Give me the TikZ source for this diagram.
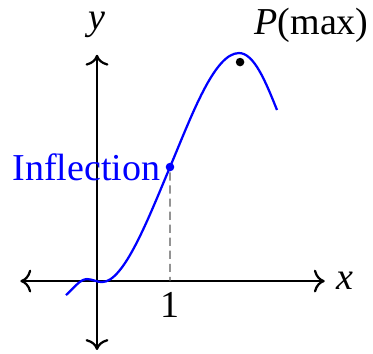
\documentclass[tikz,border=0pt]{standalone}
\usepackage{fontspec}
\setmainfont{Liberation Serif}
\usetikzlibrary{arrows.meta}

\tikzset{dot/.style={circle, fill, inner sep=0pt, minimum size=2.3pt}}

\begin{document}
\begin{tikzpicture}[xscale=0.688, yscale=0.528, semithick, font=\fontsize{10.2}{12}\selectfont]
\useasboundingbox (-1.329,-1.286) rectangle (3.781,5.018);
% axes
\coordinate (xl) at (-1.05,0);
\coordinate (xr) at (3.12,0);
\coordinate (yb) at (0,-1.23);
\coordinate (yt) at (0,4.04);
\draw[<->] (xl)--(xr);
\draw[<->] (yb)--(yt);
\node (xlab) at (3.40,0) {\textit{x}};
\node (ylab) at (0,4.57) {\textit{y}};
\node (one) at (1,-0.43) {1};
% curve
\draw[blue] (-0.425,-0.25) .. controls (-0.325,-0.14) and (-0.237,0.036) .. (-0.137,0.036)
  .. controls (-0.067,0.036) and (-0.002,-0.018) .. (0.068,-0.018)
  .. controls (0.368,-0.018) and (0.7,1.106) .. (1,2.036)
  .. controls (1.3,2.966) and (1.61,4.071) .. (1.945,4.071)
  .. controls (2.15,4.071) and (2.306,3.574) .. (2.466,3.054);
% inflection point
\coordinate (ipx) at (1,0);
\node[dot, blue] (ip) at (1,2.036) {};
\draw[black!65, thin, dash pattern=on 2.2pt off 1.3pt] (ip)--(ipx);
\node[blue, left=-1pt] (infl) at (ip.center) {Inflection};
% maximum
\node[dot] (pdot) at (1.96,3.91) {};
\node (pmax) at (2.94,4.57) {\textit{P}(max)};
\end{tikzpicture}
\end{document}
